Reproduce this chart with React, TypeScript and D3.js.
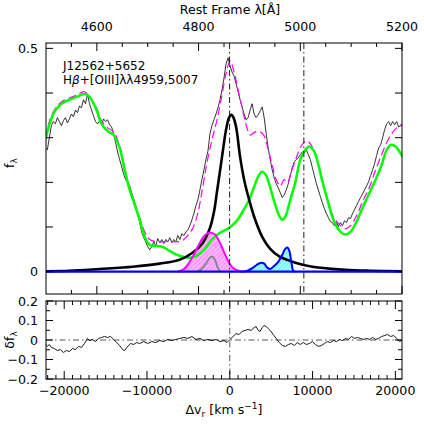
import React from "react";
import * as d3 from "d3";

// observed spectrum, flux sampled every 242.5 km/s starting at -22280 km/s
const obsStart = -22280;
const obsStep = 242.5;
const obsFlux = [
  0.277, 0.273, 0.3, 0.327, 0.336, 0.331, 0.345, 0.336, 0.327, 0.338,
  0.345, 0.333, 0.342, 0.353, 0.347, 0.362, 0.356, 0.371, 0.367, 0.385,
  0.376, 0.398, 0.376, 0.362, 0.349, 0.336, 0.331, 0.338, 0.329, 0.342,
  0.336, 0.34, 0.329, 0.324, 0.309, 0.289, 0.268, 0.251, 0.235, 0.219,
  0.206, 0.199, 0.192, 0.177, 0.163, 0.148, 0.128, 0.11, 0.089, 0.076,
  0.067, 0.056, 0.049, 0.056, 0.067, 0.058, 0.074, 0.065, 0.072, 0.063,
  0.072, 0.067, 0.076, 0.065, 0.072, 0.067, 0.081, 0.072, 0.085, 0.081,
  0.089, 0.094, 0.103, 0.116, 0.13, 0.148, 0.161, 0.183, 0.206, 0.228,
  0.251, 0.27, 0.309, 0.327, 0.34, 0.353, 0.367, 0.385, 0.407, 0.434,
  0.465, 0.479, 0.461, 0.447, 0.438, 0.421, 0.403, 0.385, 0.369, 0.353,
  0.34, 0.345, 0.362, 0.376, 0.353, 0.345, 0.351, 0.36, 0.369, 0.345,
  0.309, 0.277, 0.251, 0.228, 0.21, 0.197, 0.188, 0.177, 0.166, 0.172,
  0.183, 0.197, 0.215, 0.233, 0.246, 0.251, 0.255, 0.262, 0.268, 0.266,
  0.273, 0.262, 0.251, 0.233, 0.215, 0.197, 0.183, 0.168, 0.154, 0.141,
  0.13, 0.121, 0.112, 0.11, 0.103, 0.11, 0.101, 0.11, 0.103, 0.114,
  0.11, 0.121, 0.119, 0.13, 0.139, 0.148, 0.157, 0.166, 0.174, 0.183,
  0.192, 0.201, 0.215, 0.228, 0.242, 0.26, 0.277, 0.284, 0.3, 0.318,
  0.331, 0.336, 0.327, 0.336, 0.329, 0.336, 0.324, 0.327, 0.327,
];

// [velocity km/s, flux]
const feiiTemplate: [number, number][] = [
  [-22280, 0.295], [-21795, 0.329], [-21189, 0.358], [-20340, 0.376], [-19370, 0.385],
  [-18400, 0.392], [-17673, 0.398], [-17188, 0.396], [-16703, 0.385], [-16096, 0.362],
  [-15490, 0.331], [-14762, 0.315], [-14035, 0.306], [-13307, 0.277], [-12701, 0.228],
  [-12095, 0.183], [-11489, 0.15], [-10882, 0.116], [-10276, 0.078], [-9670, 0.06],
  [-8942, 0.058], [-8215, 0.056], [-7487, 0.049], [-6639, 0.04], [-5790, 0.034],
  [-4820, 0.031], [-3971, 0.036], [-3000, 0.051], [-2152, 0.072], [-1182, 0.087],
  [-90, 0.098], [760, 0.112], [1487, 0.132], [2336, 0.161], [2942, 0.19],
  [3427, 0.213], [3912, 0.224], [4397, 0.215], [4882, 0.188], [5488, 0.15],
  [5973, 0.125], [6337, 0.116], [6701, 0.123], [7307, 0.161], [7913, 0.2],
  [8519, 0.251], [9126, 0.273], [9611, 0.28], [10217, 0.268], [10702, 0.239],
  [11187, 0.202], [11794, 0.161], [12521, 0.116], [13370, 0.089], [13976, 0.083],
  [14582, 0.089], [15310, 0.112], [16038, 0.143], [16886, 0.177], [17613, 0.206],
  [18341, 0.239], [18947, 0.273], [19432, 0.284], [20039, 0.28], [20524, 0.268],
  [20887, 0.257],
];

const totalModel: [number, number][] = [
  [-22280, 0.3], [-21795, 0.336], [-21189, 0.362], [-20340, 0.38], [-19370, 0.389],
  [-18400, 0.396], [-17673, 0.403], [-17188, 0.398], [-16703, 0.387], [-16096, 0.367],
  [-15490, 0.338], [-14762, 0.322], [-14035, 0.313], [-13307, 0.282], [-12701, 0.233],
  [-12095, 0.188], [-11489, 0.154], [-10882, 0.121], [-10276, 0.089], [-9670, 0.072],
  [-8700, 0.067], [-7730, 0.067], [-6760, 0.067], [-5790, 0.069], [-5062, 0.081],
  [-4456, 0.098], [-3850, 0.132], [-3364, 0.179], [-2758, 0.244], [-2152, 0.295],
  [-1546, 0.34], [-939, 0.396], [-454, 0.443], [32, 0.472], [517, 0.447],
  [1002, 0.407], [1487, 0.367], [1972, 0.329], [2457, 0.306], [3063, 0.313],
  [3669, 0.313], [4154, 0.304], [4639, 0.273], [5124, 0.239], [5609, 0.206],
  [6094, 0.192], [6579, 0.206], [6943, 0.199], [7428, 0.224], [8034, 0.255],
  [8641, 0.282], [9247, 0.293], [9732, 0.286], [10217, 0.268], [10702, 0.239],
  [11187, 0.206], [11794, 0.161], [12521, 0.123], [13370, 0.103], [13976, 0.096],
  [14582, 0.103], [15310, 0.125], [16038, 0.157], [16886, 0.19], [17613, 0.228],
  [18341, 0.262], [18947, 0.289], [19554, 0.309], [20160, 0.322], [20887, 0.331],
];

const hbBroad: [number, number][] = [
  [-22280, 0.001], [-19370, 0.002], [-15732, 0.006], [-11731, 0.011], [-8457, 0.018],
  [-6032, 0.027], [-4456, 0.043], [-3243, 0.065], [-2394, 0.098], [-1909, 0.134],
  [-1546, 0.179], [-939, 0.257], [-454, 0.318], [-90, 0.345], [153, 0.351],
  [396, 0.347], [760, 0.324], [1245, 0.257], [1730, 0.206], [2336, 0.161],
  [2942, 0.123], [3912, 0.078], [4882, 0.051], [5973, 0.034], [7913, 0.02],
  [9975, 0.011], [13976, 0.004], [17007, 0.002], [20887, 0.001],
];

const hbBlue: [number, number][] = [
  [-6275, 0], [-5669, 0.004], [-5062, 0.016], [-4456, 0.034], [-3850, 0.056],
  [-3243, 0.076], [-2758, 0.085], [-2273, 0.087], [-1788, 0.083], [-1303, 0.069],
  [-818, 0.049], [-333, 0.029], [153, 0.013], [760, 0.004], [1487, 0],
];

const hbNarrow: [number, number][] = [
  [-3850, 0], [-3364, 0.007], [-2879, 0.018], [-2515, 0.029], [-2152, 0.034],
  [-1788, 0.027], [-1546, 0.013], [-1182, 0],
];

const oiiiComp: [number, number][] = [
  [1487, 0], [2215, 0.003], [2821, 0.009], [3306, 0.016], [3791, 0.02],
  [4154, 0.018], [4518, 0.009], [4882, 0.006], [5367, 0.013], [5852, 0.022],
  [6337, 0.038], [6701, 0.051], [6943, 0.054], [7186, 0.047], [7428, 0.022],
  [7671, 0.002], [7913, 0],
];

const residual: [number, number][] = [
  [-22280, -0.018], [-22038, -0.033], [-21795, -0.023], [-21553, -0.038], [-21189, -0.044],
  [-20825, -0.054], [-20462, -0.049], [-20098, -0.064], [-19734, -0.054], [-19370, -0.059],
  [-19007, -0.044], [-18643, -0.049], [-18279, -0.033], [-17915, -0.038], [-17551, -0.018],
  [-17188, 0.008], [-16945, -0.003], [-16581, 0.003], [-16218, -0.008], [-15854, 0.008],
  [-15490, 0.013], [-15126, 0.018], [-14762, 0.013], [-14399, 0.018], [-14035, 0.003],
  [-13671, -0.013], [-13307, -0.028], [-12944, -0.049], [-12701, -0.054], [-12337, -0.033],
  [-11974, -0.018], [-11610, -0.023], [-11246, -0.013], [-10882, -0.018], [-10397, -0.008],
  [-9912, -0.018], [-9427, -0.008], [-8942, -0.013], [-8457, -0.003], [-7972, -0.008],
  [-7487, 0.003], [-7002, -0.003], [-6517, 0.003], [-6032, 0.008], [-5547, 0.013],
  [-5062, 0.008], [-4577, 0.018], [-4092, 0.003], [-3607, 0.008], [-3122, -0.003],
  [-2637, 0.003], [-2152, -0.003], [-1667, 0.003], [-1182, -0.008], [-697, -0.003],
  [-333, -0.013], [32, 0.003], [396, 0.018], [760, 0.033], [1123, 0.028],
  [1487, 0.044], [1851, 0.049], [2215, 0.054], [2578, 0.049], [2942, 0.064],
  [3185, 0.069], [3427, 0.049], [3670, 0.044], [3912, 0.064], [4154, 0.074],
  [4397, 0.069], [4640, 0.059], [4882, 0.049], [5246, 0.028], [5609, 0.008],
  [5973, -0.013], [6337, -0.028], [6701, -0.033], [7064, -0.023], [7428, -0.018],
  [7792, -0.028], [8156, -0.013], [8519, -0.023], [8883, -0.013], [9247, -0.023],
  [9611, -0.018], [9975, -0.008], [10338, -0.023], [10702, -0.033], [11066, -0.028],
  [11430, -0.018], [11794, -0.008], [12157, -0.013], [12521, -0.003], [12885, -0.008],
  [13249, 0.003], [13612, -0.003], [13976, 0.008], [14340, 0.003], [14703, 0.018],
  [15067, 0.008], [15431, 0.013], [15794, 0.008], [16158, 0.003], [16522, 0.008],
  [16886, 0.003], [17249, 0.013], [17613, 0.003], [17977, 0.008], [18341, 0.018],
  [18704, 0.023], [19068, 0.028], [19432, 0.018], [19796, 0.023], [20160, 0.008],
  [20524, -0.008], [20887, 0.003],
];

const lineMarks = [4861, 5007]; // Hbeta, [OIII]5007 in Angstrom
const waveLabels = [4600, 4800, 5000, 5200];
const velLabels = [-20000, -10000, 0, 10000, 20000];
const fluxTicks = [0, 0.1, 0.2, 0.3, 0.4, 0.5];
const fluxLabels = [0, 0.5];
const resLabels = [-0.2, -0.1, 0, 0.1, 0.2];

const L = 46, R = 402;
const T1 = 43, B1 = 294;
const T2 = 301, B2 = 379;
const FONT = "DejaVu Sans, sans-serif";
const DASHDOT = "6,3,1.5,3";

const fmt = (v: number) => (v < 0 ? "\u2212" + String(-v) : String(v));

export default function App() {
  const x = d3.scaleLinear().domain([-22200, 20800]).range([L, R]);
  const xw = d3.scaleLinear().domain([4500, 5200]).range([L, R]);
  const y = d3.scaleLinear().domain([-0.05, 0.512]).range([B1, T1]);
  const yr = d3.scaleLinear().domain([-0.2, 0.2]).range([B2, T2]);

  const obs: [number, number][] = obsFlux.map((f, i) => [obsStart + i * obsStep, f]);

  const line = d3.line<[number, number]>().x(d => x(d[0])).y(d => y(d[1]));
  const smooth = d3.line<[number, number]>().x(d => x(d[0])).y(d => y(d[1])).curve(d3.curveCatmullRom);
  const area = d3.area<[number, number]>().x(d => x(d[0])).y0(y(0)).y1(d => y(d[1])).curve(d3.curveCatmullRom);
  const resLine = d3.line<[number, number]>().x(d => x(d[0])).y(d => yr(d[1]));

  const ticks: JSX.Element[] = [];
  d3.range(4550, 5201, 50).forEach(w => {
    const len = w % 200 === 0 ? 8 : 4;
    const px = xw(w);
    ticks.push(<line key={"wt" + w} x1={px} x2={px} y1={T1} y2={T1 + len} />);
    ticks.push(<line key={"wb" + w} x1={px} x2={px} y1={B1} y2={B1 - len} />);
  });
  fluxTicks.forEach(f => {
    ticks.push(<line key={"fl" + f} x1={L} x2={L + 7} y1={y(f)} y2={y(f)} />);
    ticks.push(<line key={"fr" + f} x1={R} x2={R - 7} y1={y(f)} y2={y(f)} />);
  });
  d3.range(-22, 21).forEach(k => {
    const v = k * 1000;
    const len = v % 10000 === 0 ? 8 : 4;
    const px = x(v);
    ticks.push(<line key={"vt" + k} x1={px} x2={px} y1={T2} y2={T2 + len} />);
    ticks.push(<line key={"vb" + k} x1={px} x2={px} y1={B2} y2={B2 - len} />);
  });
  d3.range(-4, 5).forEach(i => {
    const f = i * 0.05;
    const len = i % 2 === 0 ? 7 : 4;
    ticks.push(<line key={"rl" + i} x1={L} x2={L + len} y1={yr(f)} y2={yr(f)} />);
    ticks.push(<line key={"rr" + i} x1={R} x2={R - len} y1={yr(f)} y2={yr(f)} />);
  });

  return (
    <svg width={424} height={424} style={{ position: "absolute", left: 0, top: 0, background: "#fff" }}
      fontFamily={FONT} fontSize={12.6}>
      <defs>
        <clipPath id="main"><rect x={L} y={T1} width={R - L} height={B1 - T1} /></clipPath>
        <clipPath id="res"><rect x={L} y={T2} width={R - L} height={B2 - T2} /></clipPath>
        <pattern id="hatchM" width="3" height="3" patternUnits="userSpaceOnUse" patternTransform="rotate(45)">
          <rect width="3" height="3" fill="#ffb8ff" />
          <line x1="0" y1="0" x2="0" y2="3" stroke="#ff55ff" strokeWidth="1" />
        </pattern>
        <pattern id="hatchC" width="3" height="3" patternUnits="userSpaceOnUse" patternTransform="rotate(45)">
          <rect width="3" height="3" fill="#9ffcff" />
          <line x1="0" y1="0" x2="0" y2="3" stroke="#30e8ff" strokeWidth="1" />
        </pattern>
      </defs>

      <g clipPath="url(#main)">
        <path d={area(hbBlue) || ""} fill="url(#hatchM)" stroke="none" />
        <path d={area(oiiiComp) || ""} fill="url(#hatchC)" stroke="none" />
        <path d={line(obs) || ""} fill="none" stroke="#000" strokeWidth={0.8} />
        <path d={smooth(totalModel) || ""} fill="none" stroke="#ff00ff" strokeWidth={1.2} strokeDasharray="8,4" />
        <path d={smooth(feiiTemplate) || ""} fill="none" stroke="#00ff00" strokeWidth={2.5} />
        <path d={smooth(hbBroad) || ""} fill="none" stroke="#000" strokeWidth={2.6} />
        <path d={smooth(hbBlue) || ""} fill="none" stroke="#ff00ff" strokeWidth={2} />
        <path d={smooth(hbNarrow) || ""} fill="none" stroke="#888" strokeWidth={2} />
        <path d={smooth(oiiiComp) || ""} fill="none" stroke="#0000ff" strokeWidth={2} />
        <line x1={L} x2={R} y1={y(0)} y2={y(0)} stroke="#0000ff" strokeWidth={2.2} />
      </g>
      {lineMarks.map(w => (
        <line key={"lm" + w} x1={xw(w)} x2={xw(w)} y1={T1} y2={B1} stroke="#000" strokeWidth={0.9} strokeDasharray={DASHDOT} />
      ))}

      <g clipPath="url(#res)">
        <line x1={L} x2={R} y1={yr(0)} y2={yr(0)} stroke="#444" strokeWidth={0.9} strokeDasharray={DASHDOT} />
        <line x1={x(0)} x2={x(0)} y1={T2} y2={B2} stroke="#444" strokeWidth={0.9} strokeDasharray={DASHDOT} />
        <path d={resLine(residual) || ""} fill="none" stroke="#000" strokeWidth={0.9} />
      </g>

      <g stroke="#000" strokeWidth={1}>
        {ticks}
        <rect x={L} y={T1} width={R - L} height={B1 - T1} fill="none" />
        <rect x={L} y={T2} width={R - L} height={B2 - T2} fill="none" />
      </g>

      {waveLabels.map(w => (
        <text key={"wl" + w} x={xw(w)} y={31} textAnchor="middle">{w}</text>
      ))}
      <text x={230} y={14} textAnchor="middle">Rest Frame λ[Å]</text>
      {fluxLabels.map(f => (
        <text key={"flb" + f} x={38} y={y(f)} dy="0.36em" textAnchor="end">{f}</text>
      ))}
      {resLabels.map(f => (
        <text key={"rlb" + f} x={38} y={yr(f)} dy="0.36em" textAnchor="end">{fmt(f)}</text>
      ))}
      {velLabels.map(v => (
        <text key={"vlb" + v} x={x(v)} y={395} textAnchor="middle">{fmt(v)}</text>
      ))}
      <text x={224} y={414} textAnchor="middle">
        Δv<tspan fontSize={9} dy={3}>r</tspan><tspan dy={-3}> [km s</tspan>
        <tspan fontSize={9} dy={-5}>−1</tspan><tspan dy={5}>]</tspan>
      </text>
      <text transform="translate(14,163) rotate(-90)" textAnchor="middle">
        f<tspan fontSize={9} dy={3}>λ</tspan>
      </text>
      <text transform="translate(14,340) rotate(-90)" textAnchor="middle">
        δf<tspan fontSize={9} dy={3}>λ</tspan>
      </text>
      <text x={63} y={70} fontSize={12}>J12562+5652</text>
      <text x={63} y={84} fontSize={12}>H<tspan fontStyle="italic">β</tspan>+[OIII]λλ4959,5007</text>
    </svg>
  );
}
